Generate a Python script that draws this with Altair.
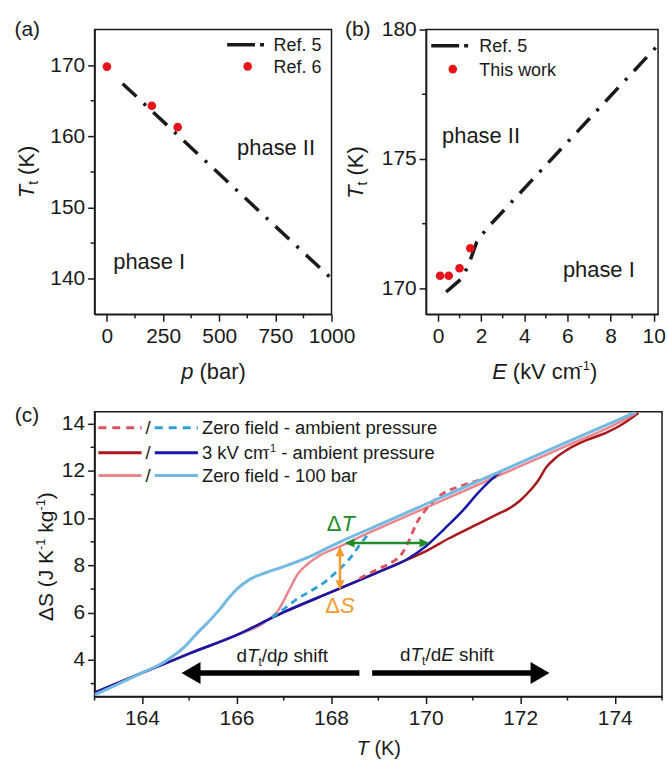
import altair as alt
import pandas as pd

FONT = "Liberation Sans"
INK = "#1a1a1a"
RED_DOT = "#e8141b"

# ---------------- panel (a): T_t vs p ----------------
a_ref5_p = [70, 1000]
a_ref5_T = [167.4, 140.0]
a_ref6_p = [0, 200, 315]
a_ref6_T = [169.8, 164.3, 161.3]
a_xticks = [0, 250, 500, 750, 1000]
a_xminor = [125, 375, 625, 875]
a_yticks = [140, 150, 160, 170]
a_yminor = [145, 155, 165]

# ---------------- panel (b): T_t vs E ----------------
b_ref5_E = [0.38, 1.15, 1.5, 1.8, 2.25, 10.2]
b_ref5_T = [169.86, 170.42, 171.1, 171.8, 172.3, 179.4]
b_work_E = [0.1, 0.5, 1.0, 1.5]
b_work_T = [170.49, 170.49, 170.78, 171.55]
b_xticks = [0, 2, 4, 6, 8, 10]
b_xminor = [1, 3, 5, 7, 9]
b_yticks = [170, 175, 180]
b_yminor = [172.5, 177.5]

# ---------------- panel (c): Delta S vs T ----------------
c_dred_T = [163.0, 164.0, 165.0, 166.0, 167.0, 168.0, 169.0, 169.5, 170.0, 170.5, 171.0, 171.5,
            171.8, 172.0, 172.2, 172.4, 172.55, 172.75, 173.0, 173.4, 173.8, 174.1, 174.5]
c_dred_S = [2.62, 3.45, 4.27, 5.05, 6.02, 6.87, 7.72, 8.15, 8.6, 9.15, 9.65, 10.15,
            10.45, 10.75, 11.15, 11.65, 12.15, 12.55, 12.9, 13.3, 13.6, 13.9, 14.45]
c_dblue_T = [163.0, 164.0, 165.0, 166.0, 167.0, 168.0, 169.0, 169.6, 170.0, 170.4, 170.8, 171.1, 171.4, 171.6]
c_dblue_S = [2.62, 3.45, 4.27, 5.05, 6.02, 6.87, 7.72, 8.25, 8.8, 9.55, 10.35, 11.05, 11.65, 12.0]
c_pink_T = [164.0, 165.0, 166.0, 166.6, 166.9, 167.1, 167.3, 167.5, 167.7, 168.0, 168.3, 168.6,
            169.0, 170.0, 171.0, 172.0, 173.0, 174.0, 174.45]
c_pink_S = [3.45, 4.27, 5.05, 5.6, 6.15, 6.9, 7.65, 8.05, 8.35, 8.65, 8.9, 9.2,
            9.56, 10.44, 11.32, 12.2, 13.08, 13.96, 14.45]
c_lblue_T = [163.0, 163.5, 164.0, 164.5, 164.9, 165.2, 165.45, 165.65, 165.85, 166.0, 166.3, 166.6,
             167.0, 167.5, 168.16, 169.0, 170.0, 171.0, 172.0, 173.0, 174.0, 174.45]
c_lblue_S = [2.52, 2.98, 3.45, 3.95, 4.55, 5.2, 5.7, 6.15, 6.65, 6.98, 7.43, 7.68,
             7.95, 8.33, 8.97, 9.71, 10.59, 11.47, 12.35, 13.23, 14.1, 14.5]
c_rdash_T = [168.6, 169.0, 169.3, 169.5, 169.65, 169.8, 170.0, 170.3, 170.8, 171.3, 171.6]
c_rdash_S = [7.45, 7.85, 8.15, 8.5, 9.05, 9.75, 10.35, 10.95, 11.4, 11.72, 11.97]
c_bdash_T = [166.75, 167.0, 167.3, 167.6, 167.9, 168.1, 168.4, 168.6, 168.8]
c_bdash_S = [5.8, 6.15, 6.6, 6.95, 7.35, 7.7, 8.3, 8.85, 9.35]
c_xticks = [164, 166, 168, 170, 172, 174]
c_xminor = [163, 165, 167, 169, 171, 173, 175]
c_yticks = [4, 6, 8, 10, 12, 14]
c_yminor = [3, 5, 7, 9, 11, 13]

# annotation anchors in panel (c), data units
dT_T = [168.29, 170.08]
dT_S = 8.95
dS_T = 168.19
dS_S = [6.96, 8.81]
shift_S = 3.45
shift_left_T = [168.6, 164.84]
shift_right_T = [168.87, 172.62]

C_RDASH = "#d9545d"
C_BDASH = "#2f9fd8"
C_DRED = "#a8191c"
C_DBLUE = "#1818a8"
C_PINK = "#e8878d"
C_LBLUE = "#72b9e3"
C_GREEN = "#1e8c2a"
C_ORANGE = "#f29a2e"

ONE = pd.DataFrame({"k": [0]})

AW = {' ': .278, '(': .333, ')': .333, '/': .278, '-': .333, '.': .278,
      'Δ': .668, 'E': .667, 'I': .278, 'J': .5, 'K': .667, 'R': .722, 'S': .667,
      'T': .611, 'Z': .611, 'a': .556, 'b': .556, 'c': .5, 'd': .556, 'e': .556,
      'f': .278, 'g': .556, 'h': .556, 'i': .222, 'k': .5, 'l': .222, 'm': .833,
      'n': .556, 'o': .556, 'p': .556, 'r': .333, 's': .5, 't': .278, 'u': .556,
      'v': .5, 'w': .722}


def tw(s, fs):
    return sum(AW.get(c, 0.556) for c in s) * fs


def rich(pieces, enc, align="left", angle=0, color=INK, data=ONE):
    total = sum(tw(t, fs) for t, fs, st, dy in pieces)
    off = 0.0 if align == "left" else -total / 2.0
    out = []
    for t, fs, st, dy in pieces:
        lead = len(t) - len(t.lstrip(" "))
        kw = dict(text=t.strip(" "), font=FONT, fontSize=fs, fontStyle=st, align="left",
                  baseline="alphabetic", color=color, dx=off + lead * AW[" "] * fs, dy=dy)
        if angle:
            kw["angle"] = angle
        out.append(alt.Chart(data).mark_text(**kw).encode(**enc))
        off += tw(t, fs)
    return out


def px(x, y):
    return dict(x=alt.value(x), y=alt.value(y))


def txt(s, x, y, fs, align="left", color=INK):
    return alt.Chart(ONE).mark_text(text=s, font=FONT, fontSize=fs, align=align,
                                    baseline="alphabetic", color=color).encode(**px(x, y))


def anchor(x, y1, y2):
    return alt.Chart(ONE).mark_rule(opacity=0, strokeWidth=1).encode(
        x=alt.value(x), y=alt.value(y1), y2=alt.value(y2))


def ax(values, orient, pad):
    return alt.Axis(values=values, orient=orient, title=None, grid=False, labelFlush=False,
                    labelOverlap=False, format="d", tickSize=7, tickWidth=1.5, tickColor=INK,
                    domainColor=INK, domainWidth=1.5, labelFont=FONT, labelFontSize=21,
                    labelColor=INK, labelPadding=pad)


class Panel:
    def __init__(self, sx, sy, xt, yt):
        self.sx, self.sy = sx, sy
        self.axx = ax(xt, "bottom", 4)
        self.axy = ax(yt, "left", 3)

    def X(self, f):
        return alt.X(f, scale=self.sx, axis=self.axx)

    def Y(self, f):
        return alt.Y(f, scale=self.sy, axis=self.axy)

    def enc(self):
        return dict(x=self.X("T:Q"), y=self.Y("S:Q"))

    def minor_x(self, vals, H):
        return alt.Chart(pd.DataFrame({"v": vals})).mark_rule(color=INK, strokeWidth=1.5).encode(
            x=self.X("v:Q"), y=alt.value(H), y2=alt.value(H + 4))

    def minor_y(self, vals):
        return alt.Chart(pd.DataFrame({"v": vals})).mark_rule(color=INK, strokeWidth=1.5).encode(
            y=self.Y("v:Q"), x=alt.value(0), x2=alt.value(-4))


def hsample(x1, x2, y, color, width, dash=None):
    kw = dict(color=color, strokeWidth=width)
    if dash:
        kw["strokeDash"] = dash
    return alt.Chart(ONE).mark_rule(**kw).encode(x=alt.value(x1), x2=alt.value(x2), y=alt.value(y))


def dot(x, y):
    return alt.Chart(ONE).mark_circle(size=75, color=RED_DOT, opacity=1).encode(**px(x, y))


DASHDOT = [19, 10, 3, 10]

# ================= panel (a) =================
WA, HA = 238, 286
A = Panel(alt.Scale(domain=[-55, 1000], nice=False, zero=False),
          alt.Scale(domain=[135, 175], nice=False, zero=False), a_xticks, a_yticks)
la = [anchor(-93.5, -27, 361.3)]
la.append(alt.Chart(pd.DataFrame({"T": a_ref5_p, "S": a_ref5_T})).mark_line(
    color=INK, strokeWidth=3.5, strokeDash=DASHDOT).encode(**A.enc()))
la.append(alt.Chart(pd.DataFrame({"T": a_ref6_p, "S": a_ref6_T})).mark_circle(
    size=75, color=RED_DOT, opacity=1).encode(**A.enc()))
la += [A.minor_x(a_xminor, HA), A.minor_y(a_yminor)]
la.append(hsample(133.2, 170.2, 15.3, INK, 3.5, [28, 5, 4, 60]))
la.append(txt("Ref. 5", 179.8, 21.6, 18))
la.append(dot(153.8, 37))
la.append(txt("Ref. 6", 179.8, 43.6, 18))
la.append(txt("phase II", 182.3, 125.5, 22, "center"))
la.append(txt("phase I", 54.8, 240.5, 22, "center"))
la.append(txt("(a)", -80.5, 6.5, 21))
la += rich([("p", 22, "italic", 0), (" (bar)", 22, "normal", 0)], px(119.5, 351), align="center")
la += rich([("T", 22, "italic", 0), ("t", 14, "normal", 4), (" (K)", 22, "normal", 0)],
           px(-60.8, 169.4), angle=270)
pa = alt.layer(*la).properties(width=WA, height=HA)

# ================= panel (b) =================
WB, HB = 233, 286
B = Panel(alt.Scale(domain=[-0.55, 10.2], nice=False, zero=False),
          alt.Scale(domain=[169, 180], nice=False, zero=False), b_xticks, b_yticks)
lb = []
lb.append(alt.Chart(pd.DataFrame({"T": b_ref5_E, "S": b_ref5_T})).mark_line(
    color=INK, strokeWidth=3.5, strokeDash=DASHDOT).encode(**B.enc()))
lb.append(alt.Chart(pd.DataFrame({"T": b_work_E, "S": b_work_T})).mark_circle(
    size=75, color=RED_DOT, opacity=1).encode(**B.enc()))
lb += [B.minor_x(b_xminor, HB), B.minor_y(b_yminor)]
lb.append(hsample(5.2, 42.2, 16.3, INK, 3.5, [28, 5, 4, 60]))
lb.append(txt("Ref. 5", 53.5, 22.6, 18))
lb.append(dot(26.8, 39.7))
lb.append(txt("This work", 53.5, 46.4, 18))
lb.append(txt("phase II", 55.2, 113.8, 22, "center"))
lb.append(txt("phase I", 173.5, 248.8, 22, "center"))
lb.append(txt("(b)", -81.5, 6.5, 21))
lb += rich([("E", 22, "italic", 0), (" (kV cm", 22, "normal", 0), ("-1", 13, "normal", -9),
            (")", 22, "normal", 0)], px(119.2, 351), align="center")
lb += rich([("T", 22, "italic", 0), ("t", 14, "normal", 4), (" (K)", 22, "normal", 0)],
           px(-63.2, 170), angle=270)
pb = alt.layer(*lb).properties(width=WB, height=HB)

# ================= panel (c) =================
WC, HC = 570, 286
C = Panel(alt.Scale(domain=[163, 175], nice=False, zero=False),
          alt.Scale(domain=[2.45, 14.5], nice=False, zero=False), c_xticks, c_yticks)


def curve(T, S, color, width, dash=None):
    kw = dict(color=color, strokeWidth=width, interpolate="monotone", clip=True)
    if dash:
        kw["strokeDash"] = dash
    return alt.Chart(pd.DataFrame({"T": T, "S": S})).mark_line(**kw).encode(**C.enc())


def drule(x1, x2, y1, y2, color, width):
    df = pd.DataFrame({"T": [x1], "x2": [x2], "S": [y1], "y2": [y2]})
    return alt.Chart(df).mark_rule(color=color, strokeWidth=width).encode(
        x2="x2:Q", y2="y2:Q", **C.enc())


def head(T, S, shape, size, color):
    return alt.Chart(pd.DataFrame({"T": [T], "S": [S]})).mark_point(
        shape=shape, filled=True, size=size, color=color, opacity=1, strokeWidth=0).encode(**C.enc())


LEFT = "M0,0L1.73,-1L1.73,1Z"
RIGHT = "M0,0L-1.73,-1L-1.73,1Z"
SLEFT = "M0,0L2.2,-1L2.2,1Z"
SRIGHT = "M0,0L-2.2,-1L-2.2,1Z"
SUP = "M0,0L-1,2.2L1,2.2Z"
SDOWN = "M0,0L-1,-2.2L1,-2.2Z"

lc = [anchor(-93.5, -20, 0)]
lc.append(curve(c_dred_T, c_dred_S, C_DRED, 2.5))
lc.append(curve(c_pink_T, c_pink_S, C_PINK, 2.5))
lc.append(curve(c_dblue_T, c_dblue_S, C_DBLUE, 2.5))
lc.append(curve(c_rdash_T, c_rdash_S, C_RDASH, 2.8, [7, 5]))
lc.append(curve(c_bdash_T, c_bdash_S, C_BDASH, 2.8, [7, 5]))
lc.append(curve(c_lblue_T, c_lblue_S, C_LBLUE, 3))
lc += [C.minor_x(c_xminor, HC), C.minor_y(c_yminor)]

# Delta T / Delta S arrows
lc.append(drule(dT_T[0] + 0.15, dT_T[1] - 0.15, dT_S, dT_S, C_GREEN, 2.5))
lc.append(head(dT_T[0], dT_S, SLEFT, 81, C_GREEN))
lc.append(head(dT_T[1], dT_S, SRIGHT, 81, C_GREEN))
lc.append(drule(dS_T, dS_T, dS_S[0] + 0.3, dS_S[1] - 0.3, C_ORANGE, 2.5))
lc.append(head(dS_T, dS_S[1], SUP, 81, C_ORANGE))
lc.append(head(dS_T, dS_S[0], SDOWN, 81, C_ORANGE))
# shift arrows
lc.append(drule(shift_left_T[1] + 0.3, shift_left_T[0], shift_S, shift_S, "black", 5.5))
lc.append(head(shift_left_T[1], shift_S, LEFT, 484, "black"))
lc.append(drule(shift_right_T[0], shift_right_T[1] - 0.3, shift_S, shift_S, "black", 5.5))
lc.append(head(shift_right_T[1], shift_S, RIGHT, 484, "black"))

lc += rich([("Δ", 22, "normal", 0), ("T", 22, "italic", 0)], C.enc(), color=C_GREEN,
           data=pd.DataFrame({"T": [167.91], "S": [9.46]}))
lc += rich([("Δ", 22, "normal", 0), ("S", 22, "italic", 0)], C.enc(), color=C_ORANGE,
           data=pd.DataFrame({"T": [167.88], "S": [6.0]}))
lc += rich([("d", 19, "normal", 0), ("T", 19, "italic", 0), ("t", 12, "normal", 4),
            ("/d", 19, "normal", 0), ("p", 19, "italic", 0), (" shift", 19, "normal", 0)],
           C.enc(), data=pd.DataFrame({"T": [166.0], "S": [3.92]}))
lc += rich([("d", 19, "normal", 0), ("T", 19, "italic", 0), ("t", 12, "normal", 4),
            ("/d", 19, "normal", 0), ("E", 19, "italic", 0), (" shift", 19, "normal", 0)],
           C.enc(), data=pd.DataFrame({"T": [169.46], "S": [3.95]}))

# legend
rows = [16, 41, 64]
lc.append(hsample(3.8, 47.2, rows[0], C_RDASH, 3, [8, 6]))
lc.append(hsample(60.5, 103.8, rows[0], C_BDASH, 3, [8, 6]))
lc.append(hsample(3.8, 47.2, rows[1], C_DRED, 3))
lc.append(hsample(60.5, 103.8, rows[1], C_DBLUE, 3))
lc.append(hsample(3.8, 47.2, rows[2], C_PINK, 3))
lc.append(hsample(60.5, 103.8, rows[2], C_LBLUE, 3))
for r in rows:
    lc.append(txt("/", 53.8, r + 6.6, 18.5, "center"))
lc.append(txt("Zero field - ambient pressure", 107.8, rows[0] + 6.6, 18.5))
lc += rich([("3 kV cm", 18.5, "normal", 0), ("-1", 11, "normal", -7),
            (" - ambient pressure", 18.5, "normal", 0)], px(107.8, rows[1] + 6.6))
lc.append(txt("Zero field - 100 bar", 107.8, rows[2] + 6.6, 18.5))

lc.append(txt("(c)", -80.2, 9.7, 21))
lc += rich([("T", 20, "italic", 0), (" (K)", 20, "normal", 0)], px(285.5, 344.5), align="center")
lc += rich([("ΔS", 21, "normal", 0), (" (J K", 21, "normal", 0), ("-1", 13, "normal", -8),
            (" kg", 21, "normal", 0), ("-1", 13, "normal", -8), (")", 21, "normal", 0)],
           px(-41.8, 210), angle=270)
pc = alt.layer(*lc).properties(width=WC, height=HC)

top = alt.hconcat(pa, pb, spacing=95, bounds="flush")
chart = alt.vconcat(top, pc, spacing=0, bounds="full").properties(
    padding=0, background="white").configure_view(stroke=INK, strokeWidth=1.5)

chart.save("out.html", embed_options={"renderer": "svg", "actions": False})
